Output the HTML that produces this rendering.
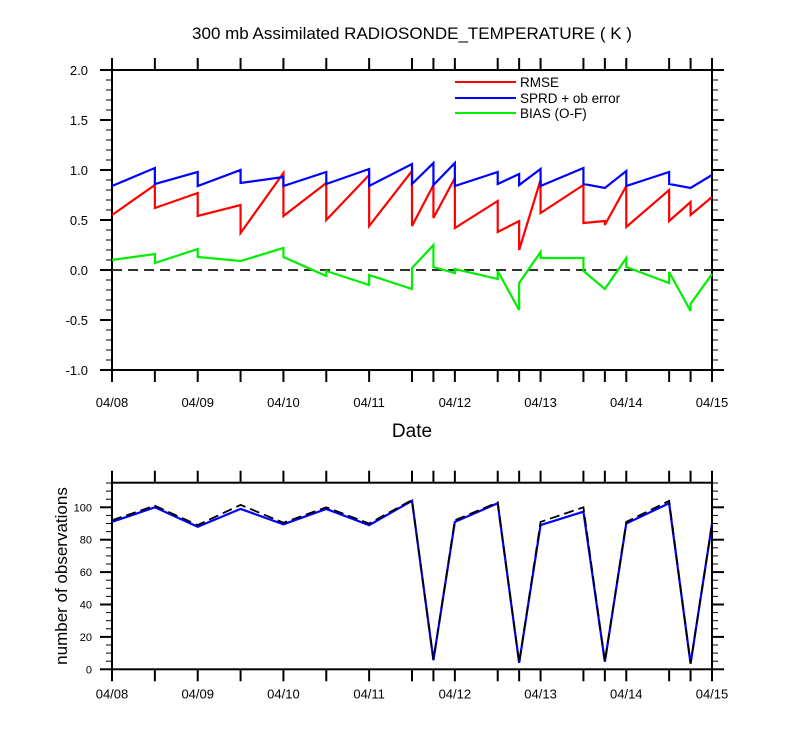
<!DOCTYPE html>
<html><head><meta charset="utf-8"><style>
body{margin:0;background:#fff;}
svg{display:block;font-family:"Liberation Sans",sans-serif;}
</style></head><body>
<svg id="c" width="800" height="750" viewBox="0 0 800 750">
<text x="412" y="39" font-size="17" text-anchor="middle">300 mb Assimilated RADIOSONDE_TEMPERATURE ( K )</text>
<text x="412" y="437" font-size="19" text-anchor="middle">Date</text>
<text transform="translate(67,576) rotate(-90)" font-size="17" text-anchor="middle">number of observations</text>
</svg>
<script>
// ---- data ----
const tickTimes=[0,0.5,1,1.5,2,2.5,3,3.5,3.75,4,4.5,4.75,5,5.5,5.75,6,6.5,6.75,7];
const dateLabels=["04/08","04/09","04/10","04/11","04/12","04/13","04/14","04/15"];
const topYTicks=[-1.0,-0.5,0.0,0.5,1.0,1.5,2.0];
const rmseT=[0,0.5,0.5,1,1,1.5,1.5,2,2,2.5,2.5,3,3,3.5,3.5,3.75,3.75,4,4,4.5,4.5,4.75,4.75,5,5,5.5,5.5,5.75,5.75,6,6,6.5,6.5,6.75,6.75,7];
const rmseV=[0.55,0.85,0.62,0.77,0.54,0.65,0.37,0.97,0.54,0.87,0.50,0.95,0.44,0.99,0.44,0.85,0.52,0.92,0.42,0.69,0.38,0.49,0.20,0.90,0.57,0.85,0.47,0.49,0.45,0.84,0.43,0.80,0.49,0.68,0.55,0.73];
const sprdT=rmseT;
const sprdV=[0.84,1.02,0.86,0.98,0.84,1.00,0.87,0.93,0.84,0.98,0.86,1.01,0.84,1.06,0.86,1.07,0.85,1.07,0.84,0.98,0.86,0.96,0.85,1.01,0.84,1.02,0.86,0.82,0.82,0.99,0.84,0.98,0.86,0.82,0.82,0.95];
const biasT=[0,0.5,0.5,1,1,1.5,2,2,2.5,2.5,3,3,3.5,3.5,3.75,3.75,4,4,4.5,4.5,4.75,4.75,5,5,5.5,5.5,5.75,6,6,6.5,6.5,6.75,6.75,7];
const biasV=[0.10,0.16,0.07,0.21,0.13,0.09,0.22,0.13,-0.06,-0.01,-0.15,-0.05,-0.19,0.02,0.25,0.03,-0.03,0.01,-0.09,-0.01,-0.40,-0.13,0.18,0.12,0.12,-0.01,-0.19,0.12,0.03,-0.13,-0.02,-0.41,-0.34,-0.04];
const obsT=[0,0.5,1,1.5,2,2.5,3,3.5,3.75,4,4.5,4.75,5,5.5,5.75,6,6.5,6.75,7];
const obsUsed=[91,100,88,99,89.5,99,89,104,5.7,91,102.5,4,89,97.3,4.7,90,102.5,3.5,89.7];
const obsTotal=[92,101,89,101.5,90.5,100,90,104.5,5.7,92,103,4,91,100,4.7,91,104,3.5,89.7];
const botYTicks=[0,20,40,60,80,100];

const svg=document.getElementById('c');
const NS='http://www.w3.org/2000/svg';
function mk(tag,attrs,parent){const e=document.createElementNS(NS,tag);for(const k in attrs)e.setAttribute(k,attrs[k]);(parent||svg).appendChild(e);return e;}
const X0=112,X1=712;
const xs=t=>X0+t*(X1-X0)/7;
const yTop=v=>270-100*v;
const yBot=v=>669.3-1.62*v;

function frame(top,bot,name,labOff){
  const r=mk('rect',{x:X0,y:top,width:X1-X0,height:bot-top,fill:'none',stroke:'#000','stroke-width':2});
  
  
  tickTimes.forEach(t=>{
    mk('line',{x1:xs(t),x2:xs(t),y1:top,y2:top-12,stroke:'#000','stroke-width':2});
    mk('line',{x1:xs(t),x2:xs(t),y1:bot,y2:bot+12,stroke:'#000','stroke-width':2});
  });
  dateLabels.forEach((d,i)=>{
    const tx=mk('text',{x:xs(i),y:bot+labOff,'font-size':13,'text-anchor':'middle'});
    tx.textContent=d;
    
    
  });
}
function poly(T,V,ys,color,name,extra){
  const p=mk('polyline',Object.assign({points:T.map((t,i)=>xs(t)+','+ys(V[i])).join(' '),fill:'none',stroke:color,'stroke-width':2.2,'stroke-linejoin':'miter'},extra||{}));
  
  
}
// top panel
frame(70,370,'top-plot-area',37);
for(let k=-10;k<=20;k++){
  const v=k/10,y=yTop(v),L=(k%5===0)?12:6;
  mk('line',{x1:X0,x2:X0-L,y1:y,y2:y,stroke:'#000','stroke-width':(k%5===0)?2:1});
  mk('line',{x1:X1,x2:X1+L,y1:y,y2:y,stroke:'#000','stroke-width':(k%5===0)?2:1});
}
topYTicks.forEach(v=>{
  const tx=mk('text',{x:88,y:yTop(v)+5,'font-size':13,'text-anchor':'end'});
  tx.textContent=v.toFixed(1);
  
  
});
const zl=mk('line',{x1:X0,x2:X1,y1:yTop(0),y2:yTop(0),stroke:'#333','stroke-width':2,'stroke-dasharray':'10,6'});


poly(biasT,biasV,yTop,'#00ee00','bias-line');
poly(rmseT,rmseV,yTop,'#ff0000','rmse-line');
poly(sprdT,sprdV,yTop,'#0000ff','sprd-line');
// legend
[['RMSE','#ff0000',82],['SPRD + ob error','#0000ff',98],['BIAS (O-F)','#00ee00',113]].forEach(l=>{
  const g=mk('g',{});
  
  
  mk('line',{x1:455,x2:516,y1:l[2],y2:l[2],stroke:l[1],'stroke-width':2},g);
  const tx=mk('text',{x:520,y:l[2]+5,'font-size':13.5},g);
  tx.textContent=l[0];
});
// bottom panel
frame(482.7,669.3,'bottom-plot-area',29);
for(let v=0;v<=115;v+=5){
  const y=yBot(v),L=(v%20===0)?12:6;
  mk('line',{x1:X0,x2:X0-L,y1:y,y2:y,stroke:'#000','stroke-width':(v%20===0)?2:1});
  mk('line',{x1:X1,x2:X1+L,y1:y,y2:y,stroke:'#000','stroke-width':(v%20===0)?2:1});
}
botYTicks.forEach(v=>{
  const tx=mk('text',{x:92,y:yBot(v)+4,'font-size':11,'text-anchor':'end'});
  tx.textContent=v;
  
  
});
poly(obsT,obsUsed,yBot,'#0000ff','obs-used-line');
poly(obsT,obsTotal,yBot,'#000','obs-total-line',{'stroke-dasharray':'10,5','stroke-width':1.8});
</script>
</body></html>
